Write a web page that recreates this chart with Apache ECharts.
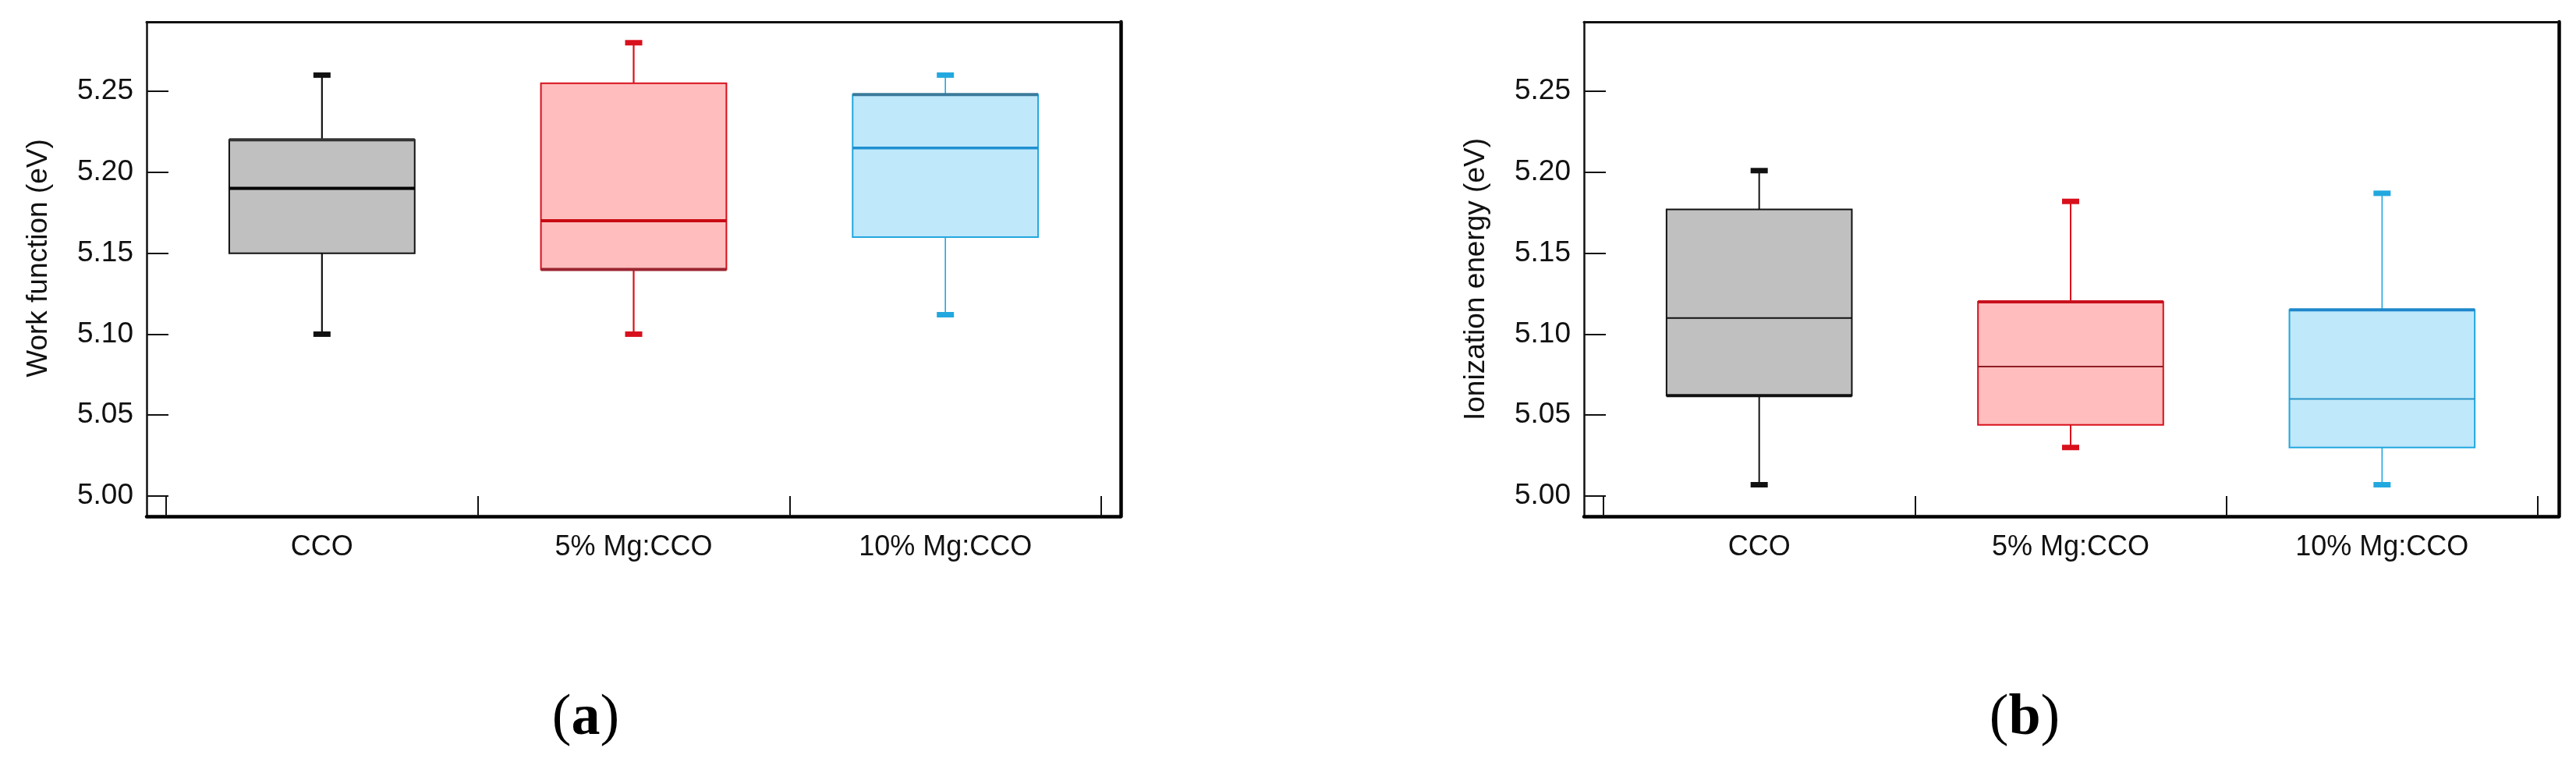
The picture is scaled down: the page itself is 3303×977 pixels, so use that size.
<!DOCTYPE html>
<html>
<head>
<meta charset="utf-8">
<script src="https://cdn.jsdelivr.net/npm/echarts@6/dist/echarts.min.js"></script>
<style>
  html, body { margin: 0; padding: 0; background: #fff; }
  #chart { width: 3303px; height: 977px; }
</style>
</head>
<body>
<div id="chart"></div>
<script>
// categories and tick labels
const categories = ['CCO', '5% Mg:CCO', '10% Mg:CCO'];
const yTicks = [5.00, 5.05, 5.10, 5.15, 5.20, 5.25];

// (a) work function (eV): min, Q1, median, Q3, max per category
const wfMin = [5.100, 5.100, 5.112];
const wfQ1 = [5.150, 5.140, 5.160];
const wfMedian = [5.190, 5.170, 5.215];
const wfQ3 = [5.220, 5.255, 5.248];
const wfMax = [5.260, 5.280, 5.260];

// (b) ionization energy (eV)
const ieMin = [5.007, 5.030, 5.007];
const ieQ1 = [5.062, 5.044, 5.030];
const ieMedian = [5.110, 5.080, 5.060];
const ieQ3 = [5.177, 5.120, 5.115];
const ieMax = [5.201, 5.182, 5.187];

const FONT = 'Liberation Sans, Arial, sans-serif';

function boxData(mins, q1s, meds, q3s, maxs) {
  return categories.map((c, i) => [i, mins[i], q1s[i], meds[i], q3s[i], maxs[i]]);
}

// look of each box, per panel
const styleA = [
  { fill: '#c0c0c0', line: '#111', med: '#000', medW: 4, whisk: 2.2, heavy: 'top', heavyColor: '#333' },
  { fill: '#ffbdbd', line: '#d8101c', med: '#c80a14', medW: 4, whisk: 2.2, heavy: 'bottom', heavyColor: '#9a2430' },
  { fill: '#bfe8fb', line: '#22a8de', med: '#1e90d0', medW: 3.5, whisk: 1.6, heavy: 'top', heavyColor: '#3a7a9c' }
];
const styleB = [
  { fill: '#c0c0c0', line: '#111', med: '#111', medW: 2, whisk: 2, heavy: 'bottom', heavyColor: '#111' },
  { fill: '#ffbdbd', line: '#d8101c', med: '#8e1c24', medW: 2, whisk: 2, heavy: 'top', heavyColor: '#c8101c' },
  { fill: '#bfe8fb', line: '#22a8de', med: '#2a94c8', medW: 2, whisk: 1.6, heavy: 'top', heavyColor: '#1e88cc' }
];

function makeRender(styles) {
  return function (params, api) {
    const s = styles[params.dataIndex];
    const x = api.value(0);
    const pMin = api.coord([x, api.value(1)]);
    const pQ1 = api.coord([x, api.value(2)]);
    const pMed = api.coord([x, api.value(3)]);
    const pQ3 = api.coord([x, api.value(4)]);
    const pMax = api.coord([x, api.value(5)]);
    const band = api.size([1, 0])[0];
    const w = band * 0.595;
    const cx = pMed[0];
    const capW = 22, capH = 7;
    const children = [
      { type: 'line', shape: { x1: cx, y1: pQ3[1], x2: cx, y2: pMax[1] }, style: { stroke: s.line, lineWidth: s.whisk } },
      { type: 'line', shape: { x1: cx, y1: pQ1[1], x2: cx, y2: pMin[1] }, style: { stroke: s.line, lineWidth: s.whisk } },
      { type: 'rect', shape: { x: cx - w / 2, y: pQ3[1], width: w, height: pQ1[1] - pQ3[1] },
        style: { fill: s.fill, stroke: s.line, lineWidth: 2 } },
      { type: 'line', shape: { x1: cx - w / 2, y1: pMed[1], x2: cx + w / 2, y2: pMed[1] }, style: { stroke: s.med, lineWidth: s.medW } },
      { type: 'rect', shape: { x: cx - capW / 2, y: pMax[1] - capH / 2, width: capW, height: capH }, style: { fill: s.line } },
      { type: 'rect', shape: { x: cx - capW / 2, y: pMin[1] - capH / 2, width: capW, height: capH }, style: { fill: s.line } }
    ];
    const hy = s.heavy === 'top' ? pQ3[1] : pQ1[1];
    children.push({ type: 'line', shape: { x1: cx - w / 2, y1: hy, x2: cx + w / 2, y2: hy }, style: { stroke: s.heavyColor, lineWidth: 4 } });
    return { type: 'group', children: children };
  };
}

// data area of each panel (between first and last category ticks) and its outer frame
const panels = [
  { name: 'Work function (eV)', data: boxData(wfMin, wfQ1, wfMedian, wfQ3, wfMax), styles: styleA,
    grid: { left: 213, right: 1891, top: 28, bottom: 315 },
    frame: { left: 188, right: 1866, top: 28, bottom: 315 }, namePad: [0, 0, 0, 28] },
  { name: 'Ionization energy (eV)', data: boxData(ieMin, ieQ1, ieMedian, ieQ3, ieMax), styles: styleB,
    grid: { left: 2056, right: 49, top: 28, bottom: 315 },
    frame: { left: 2031, right: 22, top: 28, bottom: 315 }, namePad: [0, 26, 0, 0] }
];

const grid = [], xAxis = [], yAxis = [], series = [];
panels.forEach((p, k) => {
  const gData = grid.length;
  grid.push(p.grid);
  const gFrame = grid.length;
  grid.push(p.frame);

  xAxis.push({
    gridIndex: gData, type: 'category', data: categories, boundaryGap: true,
    axisLine: { show: false },
    axisTick: { show: true, inside: true, length: 26, lineStyle: { color: '#111', width: 2 } },
    axisLabel: { fontSize: 36, fontFamily: FONT, color: '#111', margin: 22 },
    splitLine: { show: false }
  });
  yAxis.push({
    gridIndex: gData, type: 'value', min: 4.98748, max: 5.2929, offset: 25,
    name: p.name, nameLocation: 'middle', nameGap: 120,
    nameTextStyle: { fontSize: 37, fontFamily: FONT, color: '#111', padding: p.namePad },
    axisLine: { show: false },
    axisTick: { show: true, inside: true, length: 28, lineStyle: { color: '#111', width: 2 }, customValues: yTicks },
    axisLabel: { fontSize: 37, fontFamily: FONT, color: '#111', margin: 17, customValues: yTicks,
      formatter: v => v.toFixed(2) },
    splitLine: { show: false }
  });
  const xData = xAxis.length - 1, yData = yAxis.length - 1;

  // frame: four plain axis lines
  const bare = { axisTick: { show: false }, axisLabel: { show: false }, splitLine: { show: false }, min: 0, max: 1, type: 'value' };
  xAxis.push(Object.assign({ gridIndex: gFrame, position: 'bottom', axisLine: { show: true, onZero: false, lineStyle: { color: '#000', width: 4.5 } } }, bare));
  xAxis.push(Object.assign({ gridIndex: gFrame, position: 'top', axisLine: { show: true, onZero: false, lineStyle: { color: '#111', width: 3 } } }, bare));
  yAxis.push(Object.assign({ gridIndex: gFrame, position: 'left', axisLine: { show: true, onZero: false, lineStyle: { color: '#111', width: 2.5 } } }, bare));
  yAxis.push(Object.assign({ gridIndex: gFrame, position: 'right', axisLine: { show: true, onZero: false, lineStyle: { color: '#000', width: 4.5 } } }, bare));

  series.push({
    type: 'custom', xAxisIndex: xData, yAxisIndex: yData,
    encode: { x: 0, y: [1, 2, 3, 4, 5] },
    renderItem: makeRender(p.styles),
    data: p.data, z: 2
  });
});

const panelLabel = (text, x) => ({
  type: 'text', x: x, y: 922,
  style: {
    text: '{p|(}{b|' + text + '}{p|)}',
    align: 'center', verticalAlign: 'middle',
    rich: {
      p: { fontFamily: 'Liberation Serif, serif', fontSize: 74, fill: '#000' },
      b: { fontFamily: 'Liberation Serif, serif', fontSize: 74, fontWeight: 'bold', fill: '#000' }
    }
  }
});

const chart = echarts.init(document.getElementById('chart'));
chart.setOption({
  backgroundColor: '#fff',
  animation: false,
  grid: grid,
  xAxis: xAxis,
  yAxis: yAxis,
  series: series,
  graphic: [panelLabel('a', 751), panelLabel('b', 2596)]
});
</script>
</body>
</html>
